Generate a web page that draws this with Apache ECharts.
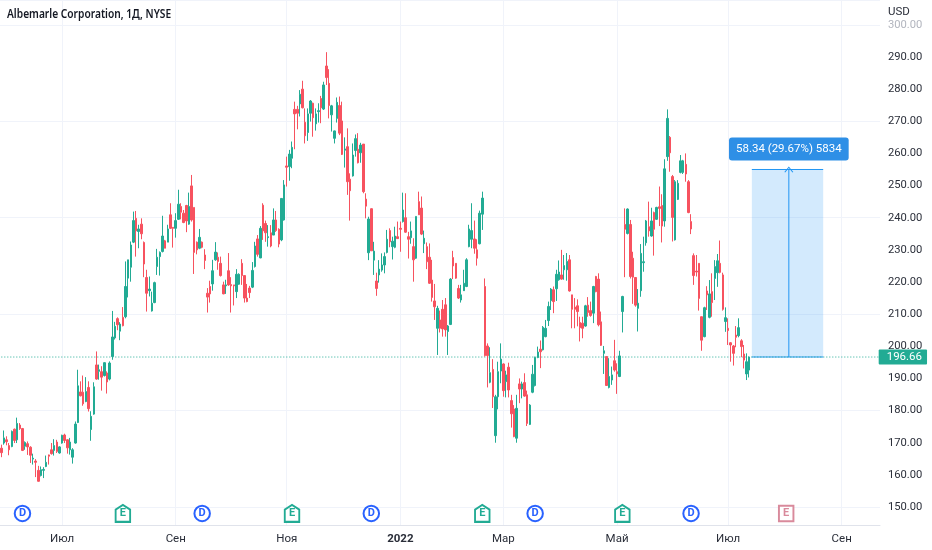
<!DOCTYPE html>
<html><head><meta charset="utf-8">
<style>html,body{margin:0;padding:0;background:#fff}#c{width:932px;height:550px}</style>
<script src="https://cdn.jsdelivr.net/npm/echarts@6/dist/echarts.min.js"></script>
</head><body><div id="c"></div>
<script>
const opens=[168.3,169.9,170.9,169.1,168.8,174.2,170.9,175.5,174.4,168.9,
169.7,168.6,164.9,164.3,161.4,159.8,161.4,162.6,166.2,167.8,
167.6,170.2,166.8,169.9,172.4,170.9,167.8,165.5,169.9,176.3,
185.8,185.7,182.8,187.2,174.1,178.9,194.2,192.2,192.1,190.9,
191.7,189.8,196.8,202.6,208.6,204.7,209.0,209.2,221.2,224.6,
232.4,239.8,235.7,238.0,232.3,221.4,217.3,211.0,213.6,224.8,
227.9,229.5,232.8,232.4,240.9,237.0,236.7,239.5,243.5,241.4,
243.8,238.0,249.9,243.2,232.4,230.5,232.4,228.4,216.5,218.6,
219.4,226.9,227.7,225.8,219.1,218.8,223.5,219.2,219.1,217.0,
219.3,225.8,222.0,215.0,218.1,218.4,224.8,233.4,227.5,243.9,
238.2,233.8,235.3,234.6,239.3,236.4,233.1,239.3,256.1,255.9,
258.5,273.7,273.7,275.4,280.0,269.7,266.5,272.5,275.6,269.2,
273.0,277.1,273.8,287.2,281.8,272.0,264.7,270.9,274.9,270.1,
261.0,262.1,252.0,253.0,260.9,261.3,260.2,262.9,245.8,229.1,
242.8,226.8,220.3,222.2,223.7,225.3,229.2,236.0,231.0,230.8,
234.1,236.7,238.8,240.0,234.1,233.8,231.0,227.4,245.0,243.0,
231.9,231.0,227.7,220.6,214.1,205.6,208.2,211.5,212.9,204.6,
206.8,227.6,225.8,218.0,214.4,217.3,218.6,231.0,233.3,233.4,
230.0,231.9,241.1,218.6,200.1,188.8,192.8,172.2,184.3,192.3,
194.5,189.0,193.5,183.1,180.5,171.4,188.3,186.7,188.7,184.9,
175.7,185.7,187.8,196.5,199.1,198.9,203.0,208.0,214.2,217.6,
217.9,220.7,222.2,223.8,223.8,226.9,216.0,212.2,212.6,207.4,
207.2,206.3,212.8,211.1,210.3,221.7,220.9,207.6,197.8,196.8,
187.2,189.5,195.5,192.1,190.6,210.8,237.9,235.1,237.9,227.4,
221.4,211.8,217.3,226.0,232.2,237.2,234.3,241.6,239.5,243.4,
243.8,239.0,259.0,265.0,252.8,233.1,245.7,254.1,254.1,256.6,
251.2,238.8,228.2,223.4,225.8,209.2,203.0,217.2,209.0,217.0,
221.1,222.9,225.8,222.2,207.7,205.6,201.1,200.1,203.5,203.3,
201.7,197.6,191.4,192.6];
const closes=[166.9,171.5,170.3,167.8,173.5,170.7,176.0,174.4,167.6,170.1,
168.7,166.1,165.2,163.9,158.0,161.6,161.7,163.9,165.8,166.6,
169.1,167.3,168.7,172.3,170.7,168.4,170.2,167.8,175.8,187.7,
184.6,182.1,185.9,180.6,178.2,187.4,189.8,192.7,190.4,194.9,
188.9,194.8,202.9,206.2,206.7,206.9,206.4,218.6,226.9,231.5,
239.1,235.9,236.5,235.0,225.6,216.5,217.8,213.4,219.8,227.7,
229.2,234.3,230.5,236.5,236.7,236.7,239.1,244.2,241.7,238.5,
239.0,243.5,239.3,229.2,230.0,233.9,230.8,226.7,215.3,216.3,
223.5,229.3,226.4,222.0,216.3,219.1,219.1,218.8,218.8,222.4,
222.4,222.0,215.0,213.9,216.7,223.6,231.2,228.6,236.7,235.9,
235.3,234.1,231.2,239.3,236.0,231.8,246.0,250.2,255.7,259.8,
261.9,272.3,272.5,278.4,274.2,265.5,272.3,276.3,271.1,272.3,
273.3,274.2,281.3,283.6,274.9,274.8,267.0,275.9,266.3,259.7,
261.4,251.2,248.4,259.5,264.6,257.1,262.6,248.1,243.6,239.6,
229.7,229.6,218.0,224.0,225.3,227.9,233.3,232.5,232.7,234.3,
233.5,236.4,242.4,235.5,233.3,235.9,226.9,240.4,240.9,234.9,
233.6,226.3,219.6,215.2,212.3,211.8,205.6,205.4,205.1,206.3,
220.9,225.0,221.2,215.0,216.0,219.6,226.9,236.5,236.0,230.5,
227.4,241.4,246.1,197.1,197.1,191.8,184.3,184.3,192.1,196.0,
186.2,191.1,186.4,179.0,171.9,180.7,186.7,188.3,184.5,176.0,
181.7,191.3,196.5,198.2,198.3,205.9,205.6,212.4,217.8,213.9,
222.4,223.1,220.9,225.1,226.4,217.2,211.5,211.5,210.8,205.8,
205.6,212.6,210.5,209.6,218.6,217.0,206.7,200.3,198.6,187.8,
190.6,191.1,192.6,191.4,197.0,215.5,236.4,242.7,221.7,221.5,
212.8,213.4,228.9,226.3,239.0,235.9,239.0,236.4,243.2,242.9,
237.4,255.2,270.9,260.2,240.1,251.2,250.7,257.7,257.7,253.6,
241.6,236.5,222.0,223.1,214.9,201.9,212.0,216.0,216.3,213.6,
224.8,226.6,223.0,211.5,208.9,204.9,200.4,197.8,202.8,205.8,
199.9,195.7,195.2,196.66];
const lows=[165.5,169.4,169.2,166.1,168.6,169.9,169.9,174.0,167.4,167.8,
166.2,163.7,163.2,159.3,157.9,159.5,159.0,162.4,163.2,166.3,
166.0,166.8,166.6,169.7,169.9,166.6,166.3,163.5,169.7,176.1,
184.4,181.5,182.6,179.7,170.6,178.7,189.6,189.6,186.2,190.6,
185.3,189.4,195.8,202.1,205.0,201.9,206.2,208.7,215.2,220.1,
232.1,227.9,230.5,233.3,221.5,210.8,215.5,210.8,213.4,222.2,
222.0,229.2,230.5,232.4,236.5,230.7,233.8,239.3,239.5,238.3,
235.5,237.8,238.8,222.5,228.6,230.2,230.5,224.0,210.5,213.6,
217.3,226.6,223.8,221.7,216.2,216.3,218.8,210.5,212.7,215.0,
219.1,219.1,213.6,213.7,215.0,218.1,224.5,227.9,227.4,233.1,
232.5,231.0,230.8,234.6,235.6,230.8,232.7,239.1,249.7,251.5,
255.4,261.3,267.5,271.5,274.0,263.1,263.9,269.9,265.2,267.1,
269.6,269.4,273.5,281.3,270.9,266.8,263.1,269.6,265.7,259.5,
255.6,247.1,239.1,252.8,259.0,256.9,257.1,247.6,239.8,226.8,
229.7,222.2,215.7,219.8,223.2,222.7,228.9,230.8,227.0,230.5,
233.4,229.4,238.5,235.3,227.3,231.9,220.1,227.2,240.9,234.6,
229.0,224.0,219.4,213.9,208.2,197.3,204.3,203.0,203.0,197.3,
206.6,220.9,221.0,214.7,213.6,217.2,218.4,230.8,230.5,228.8,
225.1,231.7,236.2,196.8,187.2,188.5,180.8,170.0,180.4,188.5,
184.3,184.1,184.1,174.7,171.7,170.0,182.3,183.8,184.3,175.2,
175.5,185.4,187.5,196.3,193.2,198.7,202.8,206.3,211.3,210.3,
214.1,220.4,220.7,220.7,220.4,217.0,205.6,205.6,206.2,201.5,
202.5,206.1,209.2,209.2,207.2,216.8,206.2,200.1,191.4,187.7,
186.9,188.0,192.1,185.2,190.4,204.3,221.5,234.8,221.1,213.2,
212.3,204.6,215.4,223.2,231.3,234.1,234.1,228.2,239.3,237.4,
232.3,237.2,257.7,254.3,232.6,232.9,245.5,253.8,253.6,251.2,
241.4,234.9,219.1,221.7,211.1,198.6,202.8,211.3,208.7,209.2,
214.4,218.5,222.7,211.1,204.5,200.4,195.2,194.0,199.7,202.8,
196.6,193.1,189.5,190.3];
const highs=[169.4,173.8,172.0,169.9,173.8,174.4,177.8,176.1,174.6,170.4,
170.4,168.9,166.6,164.9,162.8,162.6,162.4,166.0,166.3,169.9,
171.1,170.9,168.9,172.5,172.8,171.1,171.5,168.3,176.6,192.7,
189.1,190.9,190.4,189.1,179.8,188.8,198.4,194.3,193.8,195.0,
192.2,195.3,211.0,207.6,209.0,207.5,212.2,226.4,226.9,232.6,
241.9,242.1,237.8,239.8,232.6,223.8,221.7,217.0,220.1,230.3,
229.5,240.6,233.1,237.8,244.5,237.0,241.4,248.7,244.5,242.4,
244.0,247.8,253.3,243.2,232.6,236.5,232.6,230.2,218.1,220.4,
226.9,232.4,229.2,227.9,220.1,220.7,229.0,221.5,219.1,224.0,
222.7,227.1,222.0,219.4,218.8,226.2,232.5,234.6,237.4,244.5,
239.1,237.7,237.7,242.9,242.1,236.7,246.0,251.7,259.0,261.1,
263.7,276.1,274.8,279.7,282.6,274.0,274.0,276.6,275.8,274.0,
275.6,277.9,282.3,291.5,286.2,275.1,267.1,277.4,277.7,276.1,
265.0,267.8,253.8,263.1,265.9,266.3,263.3,262.9,247.6,240.3,
242.9,232.5,222.9,226.8,228.9,229.2,236.2,236.7,234.1,237.2,
238.8,238.8,247.8,247.6,235.6,238.8,233.6,240.4,248.1,246.6,
236.0,232.3,232.0,226.9,219.4,212.6,211.1,214.4,215.0,206.6,
221.2,229.7,225.8,219.1,219.1,223.8,227.4,237.8,244.5,239.1,
233.3,242.2,248.1,221.1,200.9,199.7,196.0,184.9,195.2,200.9,
194.7,192.4,194.9,184.9,181.7,184.9,190.0,189.0,191.6,186.2,
182.0,194.2,196.8,199.9,201.8,206.3,208.2,213.9,218.1,218.6,
223.8,226.7,230.0,228.4,229.0,228.4,216.0,215.0,214.6,209.2,
209.2,212.9,215.3,213.9,218.8,221.9,222.7,210.8,200.1,196.8,
196.3,193.7,202.0,194.7,198.6,215.7,242.9,242.9,239.3,229.4,
221.4,217.8,231.8,234.1,239.3,245.0,243.1,241.9,243.4,249.7,
247.3,258.2,273.7,265.4,253.3,251.7,251.7,259.5,258.0,260.0,
251.7,241.1,228.9,228.4,225.8,209.2,212.3,218.7,220.6,222.7,
226.8,228.7,232.9,222.9,212.1,208.7,201.3,200.4,206.3,208.7,
202.2,200.4,197.8,196.8];

const monthIndex=[23,66,108,151,190,233,275,318];
const monthLabels=['Июл','Сен','Ноя','2022','Мар','Май','Июл','Сен'];
const slotCount=333;
const priceTicks=[150,160,170,180,190,200,210,220,230,240,250,260,270,280,290,300];
const lastPrice=196.66;
const rulerFrom=196.66, rulerTo=255;
const rulerStart=284, rulerEnd=311, rulerMid=298;
const rulerText='58.34 (29.67%) 5834';
const dividendIdx=[8,76,140,202,261];
const earningsIdx=[46,110,182,235];
const upcomingIdx=[297];
const markerPrice=148;

const categories=[];
for(let i=0;i<slotCount;i++){const k=monthIndex.indexOf(i);categories.push(k>=0?monthLabels[k]:'');}
const ohlc=opens.map((o,i)=>[o,closes[i],lows[i],highs[i]]);
const UP='#22ab94',DOWN='#f7525f',BLUE='#2196f3',TXT='#2a2e39',GRID='#f0f3fa';
const FONT='Roboto, sans-serif';
const isMonth=(i,v)=>v!=='';

const markerSeries=(idx,symbol,size,color,text)=>({
  type:'scatter',data:idx.map(i=>[i,markerPrice]),symbol,symbolSize:size,z:4,silent:true,
  itemStyle:{color:'#fff',borderColor:color,borderWidth:2,opacity:1},
  label:{show:true,position:'inside',formatter:text,color,fontSize:11,fontWeight:700,fontFamily:FONT}
});
const guide=(points,color,type,z)=>({
  type:'line',data:points,symbol:'none',showSymbol:false,silent:true,z,clip:false,
  itemStyle:{color},lineStyle:{color,type,width:1,opacity:1}
});

const chart=echarts.init(document.getElementById('c'),null,{renderer:'canvas'});
chart.setOption({
  animation:false,
  title:[
    {text:'USD',left:888,top:6,padding:0,textStyle:{fontFamily:FONT,fontSize:11.5,fontWeight:400,color:TXT}}
  ],
  graphic:[{type:'text',x:7,y:8,scaleX:0.816,silent:true,z:10,
    style:{text:'Albemarle Corporation, 1Д, NYSE',font:'600 12.5px "Noto Sans"',fill:'#131722'}}],
  grid:{left:0,top:0,width:880,height:525,containLabel:false},
  xAxis:{type:'category',data:categories,boundaryGap:true,
    axisLine:{show:true,lineStyle:{color:'#e0e3eb'}},axisTick:{show:false},
    splitLine:{show:true,interval:isMonth,alignWithLabel:true,lineStyle:{color:GRID,width:1}},
    axisLabel:{show:true,interval:isMonth,margin:8,fontFamily:FONT,fontSize:11.5,color:TXT,hideOverlap:false,
      formatter:v=>v==='2022'?'{b|2022}':v,rich:{b:{fontWeight:700,fontSize:11.5,fontFamily:FONT,color:TXT}}}
  },
  yAxis:{type:'value',position:'right',min:144.4,max:307.73,scale:true,
    axisLine:{show:false},axisTick:{show:false},
    splitLine:{show:true,customValues:priceTicks,lineStyle:{color:GRID,width:1}},
    axisLabel:{show:true,customValues:priceTicks,margin:8,padding:[2,0,0,0],fontFamily:FONT,fontSize:11.2,
      color:v=>Number(v)===300?'#b2b5be':TXT,formatter:v=>v.toFixed(2)}
  },
  series:[
    {type:'candlestick',data:ohlc,barWidth:2,z:3,silent:true,
      itemStyle:{color:UP,color0:DOWN,borderColor:UP,borderColor0:DOWN,borderWidth:1}
    },
    {type:'line',data:[],z:1,silent:true,
      markArea:{silent:true,itemStyle:{color:'rgba(33,150,243,0.2)',borderWidth:0},
        data:[[{xAxis:rulerStart,yAxis:rulerFrom},{xAxis:rulerEnd,yAxis:rulerTo}]]}},
    guide([[rulerStart,rulerTo],[rulerEnd,rulerTo]],BLUE,'solid',2),
    guide([[rulerStart,rulerFrom],[rulerEnd,rulerFrom]],BLUE,'solid',2),
    guide([[rulerMid,rulerFrom],[rulerMid,rulerTo]],BLUE,'solid',2),
    guide([[0,lastPrice],[slotCount-1,lastPrice]],UP,[1,2],3),
    {type:'scatter',data:[[rulerMid,rulerTo]],symbol:'path://M0,9 L5,0 L10,9 L9,10 L5,2.5 L1,10 Z',symbolSize:[9,6],z:5,silent:true,clip:false,
      itemStyle:{color:BLUE,opacity:1},
      label:{show:true,position:'top',distance:6,formatter:rulerText,backgroundColor:'#2e8fe6',color:'#fff',
        fontFamily:FONT,fontSize:11.5,padding:[6,7,5,7],borderRadius:3}},
    {type:'scatter',data:[[slotCount-1,lastPrice]],symbol:'circle',symbolSize:0.01,z:6,silent:true,clip:false,
      itemStyle:{color:UP,opacity:1},
      label:{show:true,position:'right',distance:0,formatter:lastPrice.toFixed(2),backgroundColor:UP,color:'#fff',
        fontFamily:FONT,fontSize:11.5,padding:[2,5,1,8],borderRadius:1}},
    markerSeries(dividendIdx,'circle',15.5,'#2962ff','D'),
    markerSeries(earningsIdx,'path://M0,5 L8,0 L16,5 L16,18 L0,18 Z',[14.5,17],'#22ab94','E'),
    markerSeries(upcomingIdx,'rect',[14.5,15.5],'#d98a9c','E')
  ]
});
</script></body></html>
